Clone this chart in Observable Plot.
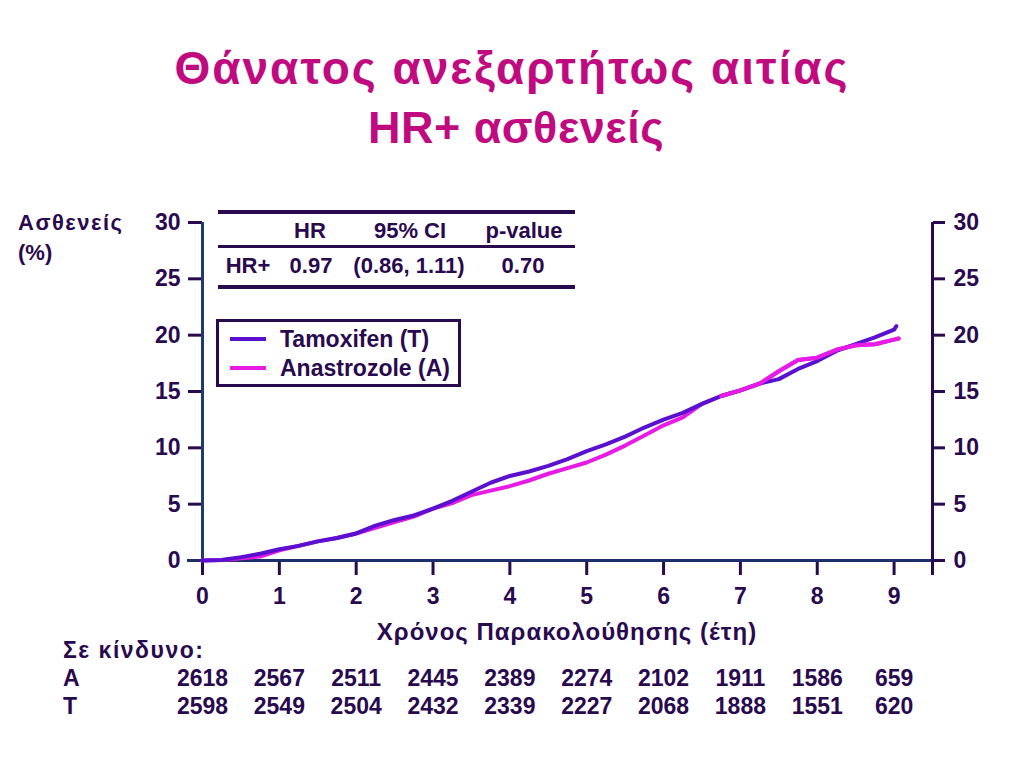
<!DOCTYPE html>
<html><head><meta charset="utf-8">
<script src="https://cdn.jsdelivr.net/npm/d3@7"></script>
<script src="https://cdn.jsdelivr.net/npm/@observablehq/plot@0.6"></script>
<style>
body{margin:0;background:#fff;}
#wrap{position:relative;width:1024px;height:768px;overflow:hidden;font-family:"Liberation Sans",Arial,sans-serif;font-weight:bold;color:#2a0a4f;}
#wrap svg{position:absolute;left:0;top:0;}
.abs{position:absolute;white-space:nowrap;}
.hl{position:absolute;background:#2a0a4f;}
</style></head><body><div id="wrap"></div>
<script>
// ---- data ----
const titleLine1 = "Θάνατος ανεξαρτήτως αιτίας";
const titleLine2 = "HR+ ασθενείς";
const yLabel = ["Ασθενείς", "(%)"];
const xLabel = "Χρόνος Παρακολούθησης (έτη)";
const seriesNames = ["Tamoxifen (T)", "Anastrozole (A)"];
const xTicks = [0,1,2,3,4,5,6,7,8,9];
const yTicks = [0,5,10,15,20,25,30];

const tamTimes = [0,0.25,0.5,0.75,1,1.25,1.5,1.75,2,2.25,2.5,2.75,3,3.25,3.5,3.75,4,4.25,4.5,4.75,5,5.25,5.5,5.75,6,6.25,6.5,6.75,7,7.25,7.5,7.75,8,8.25,8.5,8.75,9,9.03];
const tamValues = [0,0.05,0.3,0.6,1.0,1.3,1.7,2.0,2.4,3.1,3.6,4.0,4.6,5.3,6.1,6.9,7.5,7.9,8.4,9.0,9.7,10.3,11.0,11.8,12.5,13.1,13.9,14.6,15.1,15.7,16.1,17.0,17.7,18.6,19.2,19.8,20.5,20.8];
const anaTimes = [0,0.25,0.5,0.75,1,1.25,1.5,1.75,2,2.25,2.5,2.75,3,3.25,3.5,3.75,4,4.25,4.5,4.75,5,5.25,5.5,5.75,6,6.25,6.5,6.75,7,7.25,7.5,7.75,8,8.25,8.5,8.75,9,9.06];
const anaValues = [0,0.05,0.2,0.35,0.9,1.3,1.7,2.0,2.4,2.9,3.4,3.9,4.6,5.1,5.8,6.2,6.6,7.1,7.7,8.2,8.7,9.4,10.2,11.1,12.0,12.7,13.9,14.6,15.1,15.7,16.8,17.8,18.0,18.7,19.1,19.2,19.6,19.7];

const riskLabel = "Σε κίνδυνο:";
const riskRowLabels = ["A", "T"];
const riskA = [2618,2567,2511,2445,2389,2274,2102,1911,1586,659];
const riskT = [2598,2549,2504,2432,2339,2227,2068,1888,1551,620];

const tableHeader = ["HR", "95% CI", "p-value"];
const tableRow = ["HR+", "0.97", "(0.86, 1.11)", "0.70"];

// ---- styles ----
const dark = "#2a0a4f";
const navy = "#1c2f6b";
const navyLeft = "#1d3c74";
const tamColor = "#5a10cf";
const anaColor = "#e81ae6";
const titleColor = "#c00a80";

const tam = tamTimes.map((t,i)=>({t, v: tamValues[i]}));
const ana = anaTimes.map((t,i)=>({t, v: anaValues[i]}));
const rA = xTicks.map((t,i)=>({t, n: String(riskA[i])}));
const rT = xTicks.map((t,i)=>({t, n: String(riskT[i])}));

const chart = Plot.plot({
  width: 1024, height: 768,
  marginLeft: 202, marginRight: 92, marginTop: 222, marginBottom: 208,
  x: {domain: [0, 9.5]},
  y: {domain: [0, 30]},
  style: {fontFamily: "'Liberation Sans', Arial, sans-serif", fontWeight: "bold", color: dark, background: "transparent", overflow: "visible"},
  marks: [
    Plot.axisY(yTicks, {anchor: "left", tickSize: 14, tickPadding: 8, fontSize: 23, strokeWidth: 3, label: null, color: dark}),
    Plot.axisY(yTicks, {anchor: "right", tickSize: 12, tickPadding: 9, fontSize: 23, strokeWidth: 3, label: null, color: dark}),
    Plot.axisX(xTicks, {anchor: "bottom", tickSize: 15, tickPadding: 12, fontSize: 23, strokeWidth: 3, label: null, color: dark}),
    Plot.ruleY([0], {stroke: navy, strokeWidth: 3, insetLeft: -15}),
    Plot.ruleX([0], {stroke: navyLeft, strokeWidth: 3}),
    Plot.ruleX([9.5], {stroke: dark, strokeWidth: 3, insetBottom: -15}),
    Plot.line(ana, {x: "t", y: "v", stroke: anaColor, strokeWidth: 4}),
    Plot.line(tam, {x: "t", y: "v", stroke: tamColor, strokeWidth: 4}),
    Plot.line(ana.filter(d => d.t >= 6.75), {x: "t", y: "v", stroke: anaColor, strokeWidth: 4}),
    Plot.text(rA, {x: "t", text: "n", frameAnchor: "bottom", dy: 125, fontSize: 23, fill: dark}),
    Plot.text(rT, {x: "t", text: "n", frameAnchor: "bottom", dy: 153, fontSize: 23, fill: dark})
  ]
});

const wrap = document.getElementById("wrap");
wrap.appendChild(chart);

function addText(txt, cx, cy, fs, opts = {}) {
  const d = document.createElement("div");
  d.className = "abs";
  d.textContent = txt;
  d.style.fontSize = fs + "px";
  d.style.lineHeight = fs + "px";
  d.style.top = (cy - fs / 2) + "px";
  if (opts.ls) d.style.letterSpacing = opts.ls + "px";
  if (opts.align === "left") { d.style.left = cx + "px"; }
  else { d.style.left = (cx - 400) + "px"; d.style.width = "800px"; d.style.textAlign = "center"; }
  if (opts.color) d.style.color = opts.color;
  wrap.appendChild(d);
  return d;
}
function addLine(x, y, w, h, color) {
  const d = document.createElement("div");
  d.className = "hl";
  d.style.left = x + "px"; d.style.top = y + "px";
  d.style.width = w + "px"; d.style.height = h + "px";
  d.style.background = color || dark;
  wrap.appendChild(d);
}

// titles
addText(titleLine1, 512, 68, 46, {color: titleColor, ls: 2});
addText(titleLine2, 516, 127, 45, {color: titleColor, ls: 0.5});

// y label
addText(yLabel[0], 18, 223, 22, {align: "left", ls: 1.5});
addText(yLabel[1], 18, 253, 22, {align: "left"});

// x label
addText(xLabel, 567, 632, 24, {ls: 1});

// stats table
addLine(218, 210, 357, 4);
addLine(218, 245, 357, 3);
addLine(218, 285, 357, 4);
addText(tableHeader[0], 310, 231, 22);
addText(tableHeader[1], 410, 231, 22);
addText(tableHeader[2], 524, 231, 22);
addText(tableRow[0], 248, 266, 22);
addText(tableRow[1], 311, 266, 22);
addText(tableRow[2], 409, 266, 22);
addText(tableRow[3], 523, 266, 22);

// legend
const box = document.createElement("div");
box.className = "abs";
Object.assign(box.style, {left: "216px", top: "319px", width: "239px", height: "62px", border: "3px solid " + dark});
wrap.appendChild(box);
addLine(230, 337, 36, 4, tamColor);
addLine(230, 366, 36, 4, anaColor);
addText(seriesNames[0], 280, 339, 23, {align: "left"});
addText(seriesNames[1], 280, 368, 23, {align: "left"});

// at-risk labels
addText(riskLabel, 63, 650, 23, {align: "left", ls: 1.5});
addText(riskRowLabels[0], 63, 678, 23, {align: "left"});
addText(riskRowLabels[1], 63, 706, 23, {align: "left"});
</script></body></html>
